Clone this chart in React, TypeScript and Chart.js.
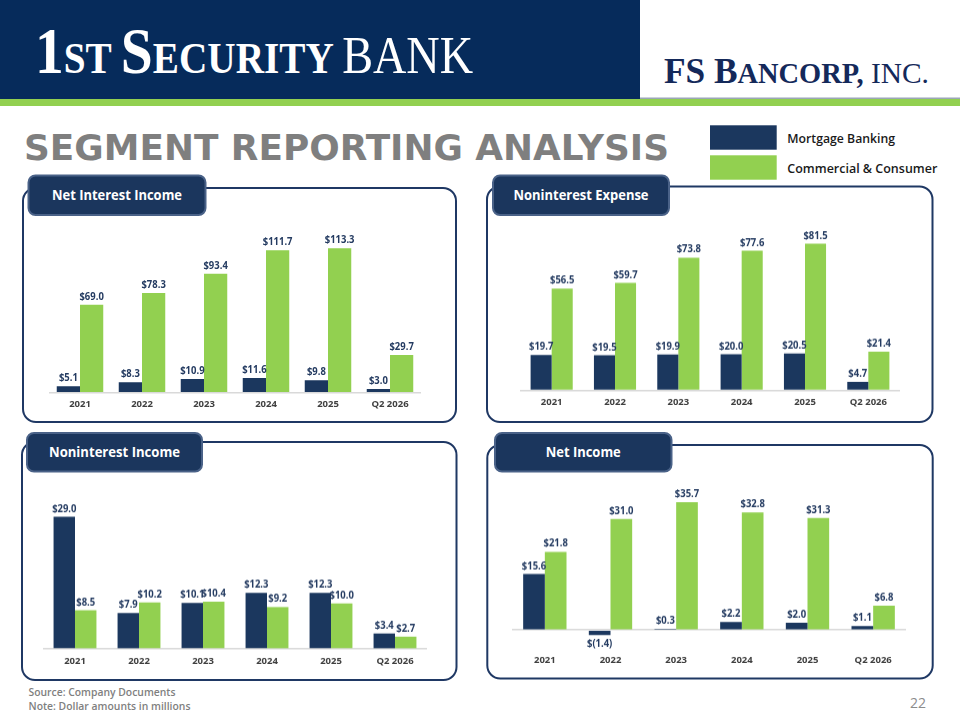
import React, { useEffect, useRef } from "react";
import { Chart, registerables } from "chart.js";

Chart.register(...registerables);

// ---------- data ----------
const categories = ["2021", "2022", "2023", "2024", "2025", "Q2 2026"];
const seriesNames = ["Mortgage Banking", "Commercial & Consumer"];

const netInterestMortgage = [5.1, 8.3, 10.9, 11.6, 9.8, 3.0];
const netInterestCommercial = [69.0, 78.3, 93.4, 111.7, 113.3, 29.7];

const nonintExpenseMortgage = [19.7, 19.5, 19.9, 20.0, 20.5, 4.7];
const nonintExpenseCommercial = [56.5, 59.7, 73.8, 77.6, 81.5, 21.4];

const nonintIncomeMortgage = [29.0, 7.9, 10.1, 12.3, 12.3, 3.4];
const nonintIncomeCommercial = [8.5, 10.2, 10.4, 9.2, 10.0, 2.7];

const netIncomeMortgage = [15.6, -1.4, 0.3, 2.2, 2.0, 1.1];
const netIncomeCommercial = [21.8, 31.0, 35.7, 32.8, 31.3, 6.8];

// ---------- style ----------
const NAVY = "#1b375e";
const GREEN = "#92d050";
const LABEL_COLOR = "#243b61";
const AXIS_SPACE = 27.5; // x-axis block height + bottom padding (measured)

type PanelDef = {
  title: string;
  mortgage: number[];
  commercial: number[];
  box: { x: number; y: number; w: number; h: number };
  tab: { x: number; y: number; w: number; h: number };
  titleWidth: number;
  chart: {
    left: number;
    width: number;
    top: number;
    baseline: number;
    pxPerUnit: number;
    belowPx: number;
    catPct: number;
  };
};

const panels: PanelDef[] = [
  {
    title: "Net Interest Income",
    mortgage: netInterestMortgage,
    commercial: netInterestCommercial,
    box: { x: 23, y: 188, w: 433, h: 234 },
    tab: { x: 28.5, y: 175.5, w: 177, h: 39.5 },
    titleWidth: 130,
    chart: { left: 43, width: 384, top: 218, baseline: 390.7, pxPerUnit: 1.26, belowPx: 0, catPct: 0.75 },
  },
  {
    title: "Noninterest Expense",
    mortgage: nonintExpenseMortgage,
    commercial: nonintExpenseCommercial,
    box: { x: 487, y: 186.5, w: 445.5, h: 235.5 },
    tab: { x: 493, y: 175.5, w: 176, h: 39.5 },
    titleWidth: 135,
    chart: { left: 514, width: 392, top: 218, baseline: 387.3, pxPerUnit: 1.767, belowPx: 0, catPct: 0.665 },
  },
  {
    title: "Noninterest Income",
    mortgage: nonintIncomeMortgage,
    commercial: nonintIncomeCommercial,
    box: { x: 22, y: 442, w: 434.5, h: 238 },
    tab: { x: 27, y: 433, w: 175, h: 38.5 },
    titleWidth: 131,
    chart: { left: 37, width: 396, top: 474, baseline: 646, pxPerUnit: 4.48, belowPx: 0, catPct: 0.67 },
  },
  {
    title: "Net Income",
    mortgage: netIncomeMortgage,
    commercial: netIncomeCommercial,
    box: { x: 487.3, y: 445, w: 445.4, h: 233.5 },
    tab: { x: 495, y: 433, w: 176.5, h: 38.5 },
    titleWidth: 75,
    chart: { left: 505.6, width: 406, top: 476, baseline: 627.3, pxPerUnit: 3.52, belowPx: 18, catPct: 0.66 },
  },
];

const fmt = (v: number) => (v < 0 ? `$(${Math.abs(v).toFixed(1)})` : `$${v.toFixed(1)}`);

const valueLabels = {
  id: "valueLabels",
  afterDatasetsDraw(chart: any) {
    const ctx = chart.ctx;
    chart.data.datasets.forEach((ds: any, i: number) => {
      const meta = chart.getDatasetMeta(i);
      meta.data.forEach((bar: any, j: number) => {
        const v = ds.data[j] as number;
        ctx.save();
        ctx.font = "bold 10.5px 'Open Sans'";
        ctx.fillStyle = LABEL_COLOR;
        ctx.textAlign = "center";
        if (v < 0) {
          ctx.textBaseline = "top";
          ctx.translate(bar.x, bar.y + 4);
        } else {
          ctx.textBaseline = "alphabetic";
          ctx.translate(bar.x, bar.y - 5);
        }
        ctx.scale(0.9, 1);
        ctx.fillText(fmt(v), 0, 0);
        ctx.restore();
      });
    });
  },
};

function BarPanel({ p }: { p: PanelDef }) {
  const ref = useRef<HTMLCanvasElement | null>(null);
  const c = p.chart;
  const aboveH = c.baseline - c.top;
  const height = aboveH + c.belowPx + AXIS_SPACE;
  useEffect(() => {
    if (!ref.current) return;
    const chart = new Chart(ref.current, {
      type: "bar",
      data: {
        labels: categories,
        datasets: [
          {
            label: seriesNames[0],
            data: p.mortgage,
            backgroundColor: NAVY,
            categoryPercentage: c.catPct,
            barPercentage: 1,
          },
          {
            label: seriesNames[1],
            data: p.commercial,
            backgroundColor: GREEN,
            categoryPercentage: c.catPct,
            barPercentage: 1,
          },
        ],
      },
      options: {
        animation: false,
        responsive: true,
        maintainAspectRatio: false,
        layout: { padding: { left: 6, right: 6, top: 0, bottom: 2 } },
        plugins: { legend: { display: false }, tooltip: { enabled: false } },
        scales: {
          x: {
            grid: { display: false, drawTicks: false, tickLength: 0 },
            border: { display: false },
            ticks: {
              font: { family: "'Open Sans'", weight: "bold", size: 9.5 },
              color: "#404040",
              padding: 6,
              maxRotation: 0,
            },
          },
          y: {
            min: -c.belowPx / c.pxPerUnit,
            max: aboveH / c.pxPerUnit,
            grid: { color: "#d9d9d9", lineWidth: 1.5, drawTicks: false, tickLength: 0 },
            border: { display: false },
            ticks: { display: false },
            afterBuildTicks: (axis: any) => {
              axis.ticks = [{ value: 0 }];
            },
          },
        },
      } as any,
      plugins: [valueLabels],
    });
    return () => chart.destroy();
  }, []);
  return (
    <div
      style={{
        position: "absolute",
        left: c.left,
        top: c.top,
        width: c.width,
        height,
      }}
    >
      <canvas ref={ref} />
    </div>
  );
}

export default function App() {
  return (
    <div
      style={{
        position: "absolute",
        left: 0,
        top: 0,
        width: 960,
        height: 720,
        background: "#ffffff",
        overflow: "hidden",
      }}
    >
      <svg width={960} height={720} style={{ position: "absolute", left: 0, top: 0 }}>
        {/* header */}
        <rect x={0} y={0} width={640} height={99} fill="#062b5b" />
        <rect x={640} y={97.5} width={320} height={1.5} fill="#9aa6b6" />
        <rect x={0} y={99} width={960} height={7} fill={GREEN} />
        <text
          transform="translate(35,73.3) scale(0.872,1)"
          fill="#ffffff"
          fontFamily="'Liberation Serif', 'DejaVu Serif', serif"
        >
          <tspan fontSize={66} fontWeight="bold">1</tspan>
          <tspan fontSize={45} fontWeight="bold">ST </tspan>
          <tspan fontSize={66} fontWeight="bold">S</tspan>
          <tspan fontSize={45} fontWeight="bold">ECURITY </tspan>
          <tspan fontSize={53} fontWeight="normal">BANK</tspan>
        </text>
        <text
          transform="translate(664,83.3) scale(0.98,1)"
          fill="#14295a"
          fontFamily="'Liberation Serif', 'DejaVu Serif', serif"
        >
          <tspan fontSize={36} fontWeight="bold">FS B</tspan>
          <tspan fontSize={29} fontWeight="bold">ANCORP,</tspan>
          <tspan fontSize={30} fontWeight="normal"> INC.</tspan>
        </text>

        {/* title */}
        <text
          x={24}
          y={159.5}
          fill="#7f7f7f"
          fontFamily="'DejaVu Sans', 'Liberation Sans', sans-serif"
          fontWeight="bold"
          fontSize={35}
          textLength={645}
          lengthAdjust="spacingAndGlyphs"
        >
          SEGMENT REPORTING ANALYSIS
        </text>

        {/* legend */}
        <rect x={710} y={125.3} width={66.7} height={24.4} fill={NAVY} />
        <rect x={710} y={155.3} width={66.7} height={24.4} fill={GREEN} />
        <text
          x={787.3}
          y={143}
          fill="#1a1a1a"
          fontFamily="'Open Sans', sans-serif"
          fontWeight={600}
          fontSize={13}
          textLength={107.7}
          lengthAdjust="spacingAndGlyphs"
        >
          {seriesNames[0]}
        </text>
        <text
          x={787.3}
          y={173}
          fill="#1a1a1a"
          fontFamily="'Open Sans', sans-serif"
          fontWeight={600}
          fontSize={13}
          textLength={150}
          lengthAdjust="spacingAndGlyphs"
        >
          {seriesNames[1]}
        </text>

        {/* panels */}
        {panels.map((p, i) => (
          <g key={i}>
            <rect
              x={p.box.x}
              y={p.box.y}
              width={p.box.w}
              height={p.box.h}
              rx={13}
              ry={13}
              fill="#ffffff"
              stroke="#1f3864"
              strokeWidth={2}
            />
            <rect
              x={p.tab.x}
              y={p.tab.y}
              width={p.tab.w}
              height={p.tab.h}
              rx={7}
              ry={7}
              fill="#1b365d"
              stroke="#4a6288"
              strokeWidth={2}
            />
            <text
              x={p.tab.x + p.tab.w / 2}
              y={p.tab.y + p.tab.h / 2 + 5}
              fill="#ffffff"
              textAnchor="middle"
              fontFamily="'Open Sans', sans-serif"
              fontWeight="bold"
              fontSize={14}
              textLength={p.titleWidth}
              lengthAdjust="spacingAndGlyphs"
            >
              {p.title}
            </text>
          </g>
        ))}

        {/* footer */}
        <text
          x={28.5}
          y={696}
          fill="#7f7f7f"
          fontFamily="'Open Sans', sans-serif"
          fontWeight={600}
          fontSize={10.5}
          textLength={147}
          lengthAdjust="spacingAndGlyphs"
        >
          Source: Company Documents
        </text>
        <text
          x={28.5}
          y={710}
          fill="#7f7f7f"
          fontFamily="'Open Sans', sans-serif"
          fontWeight={600}
          fontSize={10.5}
          textLength={162}
          lengthAdjust="spacingAndGlyphs"
        >
          Note: Dollar amounts in millions
        </text>
        <text
          x={926}
          y={707.5}
          fill="#8c8c8c"
          textAnchor="end"
          fontFamily="'Open Sans', sans-serif"
          fontSize={14}
        >
          22
        </text>
      </svg>
      {panels.map((p, i) => (
        <BarPanel key={i} p={p} />
      ))}
    </div>
  );
}
